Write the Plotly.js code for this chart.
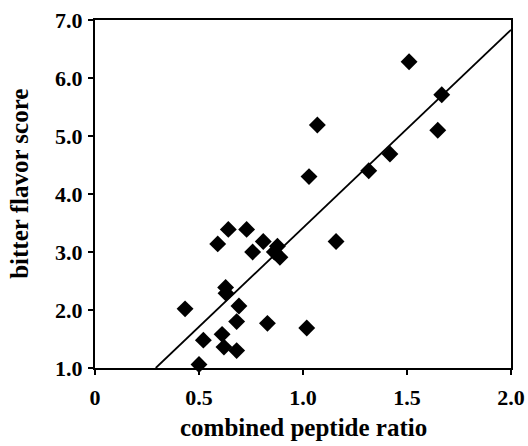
<!DOCTYPE html>
<html>
<head>
<meta charset="utf-8">
<script src="https://cdn.plot.ly/plotly-3.0.1.min.js"></script>
<style>html,body{margin:0;padding:0;background:#fff;}#chart{width:528px;height:446px;}</style>
</head>
<body>
<div id="chart"></div>
<script>
const peptideRatio = [1.51, 1.667, 1.069, 1.648, 1.418, 1.316, 1.029, 1.159, 1.018,
  0.641, 0.729, 0.590, 0.809, 0.758, 0.877, 0.862, 0.889, 0.628, 0.630, 0.433,
  0.692, 0.681, 0.829, 0.611, 0.521, 0.620, 0.681, 0.50];
const bitterScore = [6.28, 5.71, 5.19, 5.10, 4.69, 4.40, 4.30, 3.18, 1.69,
  3.39, 3.39, 3.14, 3.18, 3.00, 3.10, 3.00, 2.91, 2.39, 2.29, 2.02,
  2.07, 1.80, 1.77, 1.58, 1.48, 1.36, 1.30, 1.06];
const fitX = [0.292, 2.0];
const fitY = [1.0, 6.83];
const xTickVals = [0, 0.5, 1.0, 1.5, 2.0];
const xTickText = ['0', '0.5', '1.0', '1.5', '2.0'];
const yTickVals = [1, 2, 3, 4, 5, 6, 7];
const yTickText = ['1.0', '2.0', '3.0', '4.0', '5.0', '6.0', '7.0'];
const xTitle = 'combined peptide ratio';
const yTitle = 'bitter flavor score';

const bold = s => '<b>' + s + '</b>';
const fam = '"Liberation Serif", "Times New Roman", serif';
const tickFont = {family: fam, size: 22, color: '#000'};
const titleFont = {family: fam, size: 25, color: '#000'};

const traces = [
  {x: fitX, y: fitY, mode: 'lines', line: {color: '#000', width: 1.8}, hoverinfo: 'skip'},
  {x: peptideRatio, y: bitterScore, mode: 'markers', marker: {symbol: 'diamond', size: 13, color: '#000'}, cliponaxis: false}
];

const layout = {
  width: 528, height: 446,
  margin: {l: 95, r: 17, t: 20, b: 78},
  paper_bgcolor: '#fff', plot_bgcolor: '#fff',
  showlegend: false,
  font: {family: fam, color: '#000'},
  xaxis: {
    range: [0, 2.0], tickvals: xTickVals, ticktext: xTickText.map(bold),
    showgrid: false, zeroline: false, showline: true, linecolor: '#000', linewidth: 2,
    mirror: true, ticks: 'outside', ticklen: 5, tickwidth: 2, tickcolor: '#000',
    tickfont: tickFont, ticklabelstandoff: 4
  },
  yaxis: {
    range: [1.0, 7.0], tickvals: yTickVals, ticktext: yTickText.map(bold),
    showgrid: false, zeroline: false, showline: true, linecolor: '#000', linewidth: 2,
    mirror: true, ticks: 'outside', ticklen: 5, tickwidth: 2, tickcolor: '#000',
    tickfont: tickFont, ticklabelstandoff: 1
  },
  annotations: [
    {text: bold(xTitle), xref: 'paper', yref: 'paper', x: 0.5, y: -0.172, xanchor: 'center', yanchor: 'middle', showarrow: false, font: titleFont},
    {text: bold(yTitle), xref: 'paper', yref: 'paper', x: -0.182, y: 0.53, xanchor: 'center', yanchor: 'middle', textangle: -90, showarrow: false, font: titleFont}
  ]
};

Plotly.newPlot('chart', traces, layout, {displayModeBar: false, staticPlot: true});
</script>
</body>
</html>
